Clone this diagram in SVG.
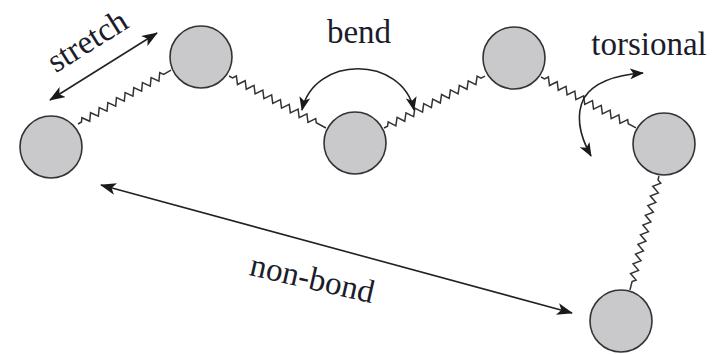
<svg xmlns="http://www.w3.org/2000/svg" width="723" height="354" viewBox="0 0 723 354">
<style>
.atom{fill:#c9c9cb;stroke:#333;stroke-width:1.6}
.spring{fill:none;stroke:#333;stroke-width:1.5;stroke-linejoin:miter}
.arrow{fill:none;stroke:#222;stroke-width:1.6}
.lbl{font-family:"Liberation Serif","Times New Roman",serif;font-size:33px;fill:#1c1c2a;text-anchor:middle}
</style>
<defs>
<marker id="ah" viewBox="0 0 16 12" refX="15" refY="6" markerWidth="16" markerHeight="12" orient="auto-start-reverse" markerUnits="userSpaceOnUse">
<path d="M0,0 L16,6 L0,12 L4,6 z" fill="#1a1a1a"/>
</marker>
<marker id="ahs" viewBox="0 0 14 11" refX="13" refY="5.5" markerWidth="14" markerHeight="11" orient="auto-start-reverse" markerUnits="userSpaceOnUse">
<path d="M0,0 L14,5.5 L0,11 L3.5,5.5 z" fill="#1a1a1a"/>
</marker>
</defs>
<rect width="723" height="354" fill="#fff"/>
<g id="connectors">
<path class="spring" transform="translate(78,124) rotate(-30.1)" d="M0,0 h4 l2.5,-3.5 l5,7 l5,-7 l5,7 l5,-7 l5,7 l5,-7 l5,7 l5,-7 l5,7 l5,-7 l5,7 l5,-7 l5,7 l5,-7 l5,7 l5,-7 l5,7 l5,-7 l2.5,3.5 H107.5"/>
<path class="spring" transform="translate(229,76) rotate(28.2)" d="M0,0 h4 l2.5,-3.5 l5,7 l5,-7 l5,7 l5,-7 l5,7 l5,-7 l5,7 l5,-7 l5,7 l5,-7 l5,7 l5,-7 l5,7 l5,-7 l5,7 l5,-7 l5,7 l5,-7 l2.5,3.5 H110"/>
<path class="spring" transform="translate(384,128) rotate(-27.2)" d="M0,0 h4 l2.5,-3.5 l5,7 l5,-7 l5,7 l5,-7 l5,7 l5,-7 l5,7 l5,-7 l5,7 l5,-7 l5,7 l5,-7 l5,7 l5,-7 l5,7 l5,-7 l5,7 l5,-7 l5,7 l5,-7 l2.5,3.5 H113.6"/>
<path class="spring" transform="translate(541,77) rotate(28.2)" d="M0,0 h4 l2.5,-3.5 l5,7 l5,-7 l5,7 l5,-7 l5,7 l5,-7 l5,7 l5,-7 l5,7 l5,-7 l5,7 l5,-7 l5,7 l5,-7 l5,7 l5,-7 l5,7 l5,-7 l2.5,3.5 H107.8"/>
<path class="spring" transform="translate(659,176) rotate(104.3)" d="M0,0 h4 l2.5,-3.5 l5,7 l5,-7 l5,7 l5,-7 l5,7 l5,-7 l5,7 l5,-7 l5,7 l5,-7 l5,7 l5,-7 l5,7 l5,-7 l5,7 l5,-7 l5,7 l5,-7 l5,7 l5,-7 l2.5,3.5 H117.6"/>
<line class="arrow" x1="50" y1="100" x2="157" y2="33" marker-start="url(#ah)" marker-end="url(#ah)"/>
<line class="arrow" x1="101" y1="185" x2="572" y2="313" marker-start="url(#ah)" marker-end="url(#ah)"/>
<path class="arrow" d="M302,110 C314,55 402,55 414,110" marker-start="url(#ahs)" marker-end="url(#ahs)"/>
<path class="arrow" d="M643,73 Q598,76 584,98 Q572,122 591,156" marker-start="url(#ahs)" marker-end="url(#ahs)"/>
</g>
<g id="atom1"><circle class="atom" cx="51" cy="147" r="31"/></g>
<g id="atom2"><circle class="atom" cx="201" cy="57" r="31"/></g>
<g id="atom3"><circle class="atom" cx="355" cy="143" r="31"/></g>
<g id="atom4"><circle class="atom" cx="514" cy="58" r="31"/></g>
<g id="atom5"><circle class="atom" cx="664" cy="144" r="31"/></g>
<g id="atom6"><circle class="atom" cx="621" cy="321" r="31"/></g>
<g id="labels">
<text class="lbl" transform="translate(93,50) rotate(-32)">stretch</text>
<text class="lbl" x="359" y="43">bend</text>
<text class="lbl" x="649" y="55">torsional</text>
<text class="lbl" transform="translate(310,289) rotate(13)">non-bond</text>
</g>
</svg>
